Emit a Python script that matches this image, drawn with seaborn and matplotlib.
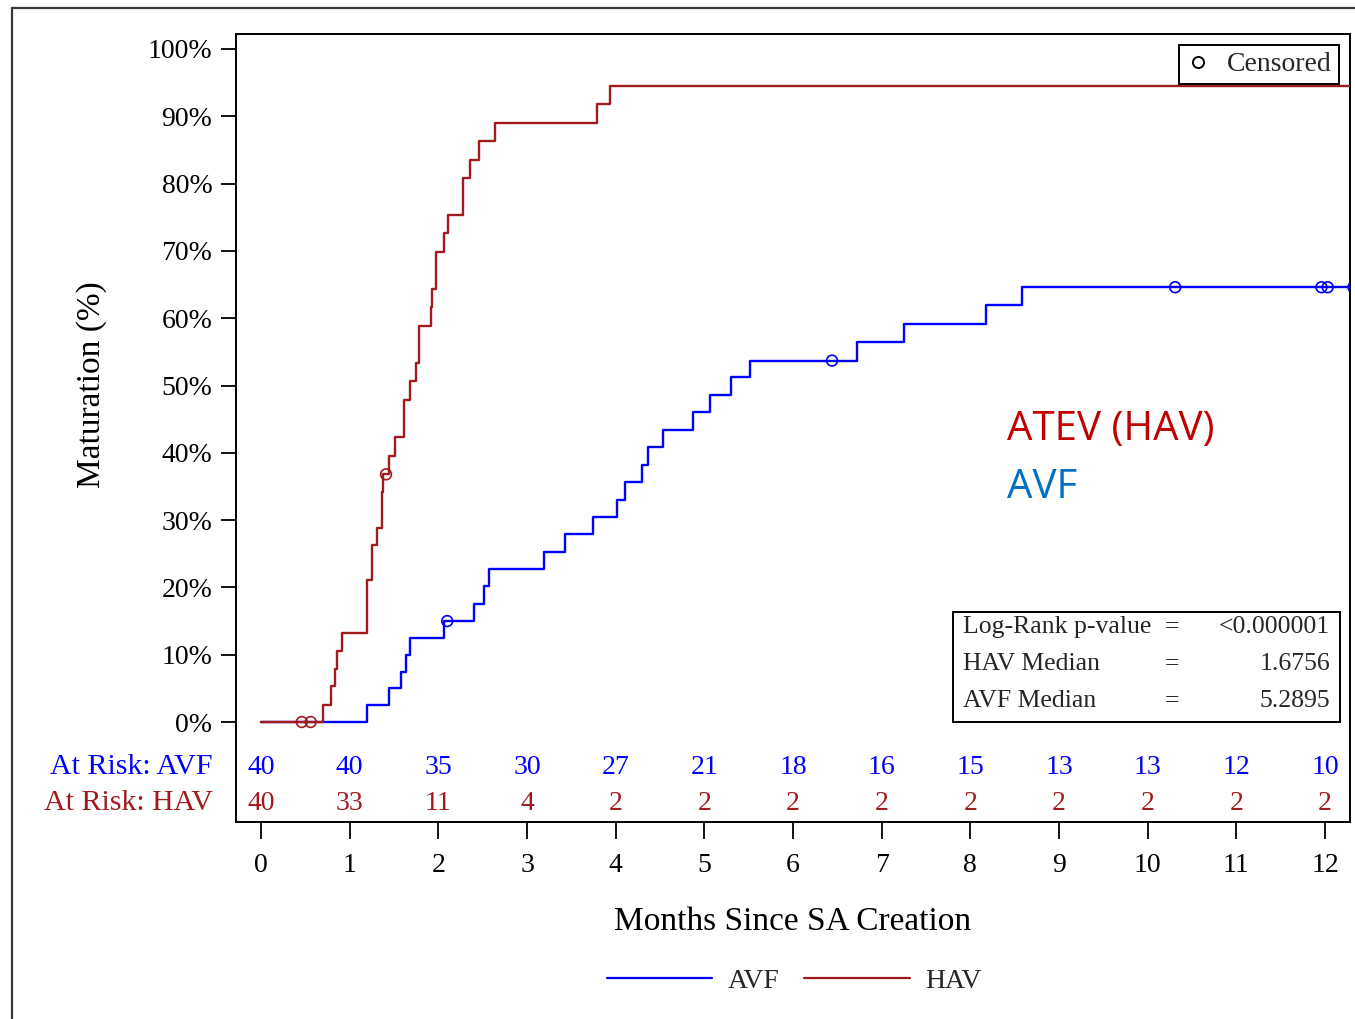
import numpy as np
import pandas as pd
import matplotlib
matplotlib.use("Agg")
import matplotlib.pyplot as plt
from matplotlib.lines import Line2D
from matplotlib.patches import Rectangle
from matplotlib.transforms import blended_transform_factory
import seaborn as sns

# ---- Kaplan-Meier step data (months, cumulative maturation %) ----
hav_time = [0, 0.699, 0.786, 0.835, 0.854, 0.910, 1.192, 1.255, 1.312, 1.361, 1.379,
            1.447, 1.511, 1.616, 1.684, 1.745, 1.785, 1.917, 1.932, 1.974, 2.064,
            2.106, 2.275, 2.357, 2.462, 2.639, 3.786, 3.936, 12.4]
hav_pct = [0, 2.6, 5.3, 7.9, 10.5, 13.2, 21.1, 26.3, 28.9, 34.2, 36.8,
           39.5, 42.3, 47.8, 50.6, 53.4, 58.9, 61.6, 64.3, 69.8, 72.6,
           75.3, 80.8, 83.5, 86.3, 89.0, 91.8, 94.5, 94.5]
hav_cens_time = [0.46, 0.56, 1.41]
hav_cens_pct = [0, 0, 36.8]

avf_time = [0, 1.192, 1.447, 1.575, 1.639, 1.684, 2.067, 2.406, 2.515, 2.575, 3.192,
            3.428, 3.748, 4.01, 4.109, 4.300, 4.361, 4.530, 4.876, 5.064, 5.301,
            5.515, 6.725, 7.256, 8.174, 8.583, 12.4]
avf_pct = [0, 2.5, 5.0, 7.5, 10.0, 12.5, 15.0, 17.6, 20.2, 22.7, 25.3,
           27.9, 30.5, 33.0, 35.6, 38.2, 40.8, 43.4, 46.0, 48.6, 51.2,
           53.7, 56.4, 59.1, 61.9, 64.6, 64.6]
avf_cens_time = [2.10, 6.44, 10.31, 11.96, 12.03, 12.32]
avf_cens_pct = [15.0, 53.7, 64.6, 64.6, 64.6, 64.6]

# ---- Number at risk table ----
risk_months = list(range(13))
avf_at_risk = [40, 40, 35, 30, 27, 21, 18, 16, 15, 13, 13, 12, 10]
hav_at_risk = [40, 33, 11, 4, 2, 2, 2, 2, 2, 2, 2, 2, 2]

# ---- Summary statistics ----
stat_labels = ["Log-Rank p-value", "HAV Median", "AVF Median"]
stat_values = ["<0.000001", "1.6756", "5.2895"]

AVF_COLOR = "#0000FF"
HAV_COLOR = "#A01A1E"

sns.set_theme(style="white")
plt.rcParams["font.family"] = ["Liberation Serif", "DejaVu Serif"]

W, H = 1355, 1019
fig = plt.figure(figsize=(W / 100, H / 100), dpi=100)
fig.patch.set_facecolor("white")

# plot frame in pixel terms
L, R, T, B = 236, 1350, 34, 822
ax = fig.add_axes([L / W, 1 - B / H, (R - L) / W, (B - T) / H])

df_avf = pd.DataFrame({"t": avf_time, "p": avf_pct})
df_hav = pd.DataFrame({"t": hav_time, "p": hav_pct})

sns.lineplot(data=df_avf, x="t", y="p", ax=ax, color=AVF_COLOR, lw=1.7,
             drawstyle="steps-post", estimator=None, sort=False, zorder=3)
sns.lineplot(data=df_hav, x="t", y="p", ax=ax, color=HAV_COLOR, lw=1.7,
             drawstyle="steps-post", estimator=None, sort=False, zorder=3)

sns.scatterplot(x=avf_cens_time, y=avf_cens_pct, ax=ax, marker="o", s=60,
                color=AVF_COLOR, facecolor="none", edgecolor=AVF_COLOR,
                linewidth=1.2, zorder=4)
sns.scatterplot(x=hav_cens_time, y=hav_cens_pct, ax=ax, marker="o", s=60,
                color=HAV_COLOR, facecolor="none", edgecolor=HAV_COLOR,
                linewidth=1.2, zorder=4)

# axis ranges
px_per_month = (1325 - 261) / 12
px_per_pct = (722 - 49) / 100
ax.set_xlim(-(261 - L) / px_per_month, 12 + (R - 1325) / px_per_month)
ax.set_ylim(-(B - 722) / px_per_pct, 100 + (49 - T) / px_per_pct)

ax.set_xticks(risk_months)
ax.set_xticklabels([str(m) for m in risk_months], fontsize=20)
yt = list(range(0, 101, 10))
ax.set_yticks(yt)
ax.set_yticklabels([f"{v}%" for v in yt], fontsize=20)
ax.tick_params(axis="x", direction="out", length=12, width=1.3, pad=10,
               colors="black", bottom=True)
ax.tick_params(axis="y", direction="out", length=11, width=1.3, pad=6,
               colors="black", left=True)

for s in ax.spines.values():
    s.set_visible(True)
    s.set_color("black")
    s.set_linewidth(1.4)

ax.set_xlabel("Months Since SA Creation", fontsize=24, color="black")
ax.xaxis.set_label_coords(0.5, -(907 - B) / (B - T))
ax.set_ylabel("Maturation (%)", fontsize=24, color="black")
ax.yaxis.set_label_coords(-(L - 92) / (R - L), (B - 385) / (B - T))
ax.yaxis.label.set_va("center")

# number-at-risk rows inside the frame
trans = blended_transform_factory(ax.transAxes, ax.transData)
y_avf_row = -(767 - 722) / px_per_pct
y_hav_row = -(803 - 722) / px_per_pct
for m, a, h in zip(risk_months, avf_at_risk, hav_at_risk):
    ax.text(m, y_avf_row, str(a), color=AVF_COLOR, fontsize=20,
            ha="center", va="center")
    ax.text(m, y_hav_row, str(h), color=HAV_COLOR, fontsize=20,
            ha="center", va="center")
lab_x = -(L - 213) / (R - L)
ax.text(lab_x, y_avf_row, "At Risk: AVF", color=AVF_COLOR, fontsize=21.5,
        ha="right", va="center", transform=trans, clip_on=False)
ax.text(lab_x, y_hav_row, "At Risk: HAV", color=HAV_COLOR, fontsize=21.5,
        ha="right", va="center", transform=trans, clip_on=False)

# statistics inset box
def ax_x(px):
    return (px - L) / (R - L)


def ax_y(py):
    return (B - py) / (B - T)


box = Rectangle((ax_x(953), ax_y(722)), ax_x(1340) - ax_x(953),
                ax_y(612) - ax_y(722), transform=ax.transAxes,
                facecolor="white", edgecolor="black", lw=1.4, zorder=5)
ax.add_patch(box)
for row_y, lab, val in zip([627, 664, 701], stat_labels, stat_values):
    ax.text(ax_x(963), ax_y(row_y), lab, transform=ax.transAxes, fontsize=18.5,
            ha="left", va="center", zorder=6)
    ax.text(ax_x(1172), ax_y(row_y), "=", transform=ax.transAxes, fontsize=18.5,
            ha="center", va="center", zorder=6)
    ax.text(ax_x(1330), ax_y(row_y), val, transform=ax.transAxes, fontsize=18.5,
            ha="right", va="center", zorder=6)

# censored-symbol legend
cens_handle = Line2D([], [], marker="o", linestyle="none", markersize=8,
                     markerfacecolor="none", markeredgecolor="black",
                     markeredgewidth=1.4)
leg = ax.legend([cens_handle], ["Censored"], loc="upper right",
                bbox_to_anchor=(ax_x(1339), ax_y(45)), borderaxespad=0,
                fontsize=20, frameon=True, fancybox=False, handlelength=0.9,
                handletextpad=0.6, borderpad=0.25, framealpha=1)
leg.get_frame().set_edgecolor("black")
leg.get_frame().set_linewidth(1.4)
leg.set_zorder(6)

# group annotations
ax.text(ax_x(1007), ax_y(430), "ATEV (HAV)", transform=ax.transAxes,
        fontsize=29, color="#C00000", family=["Open Sans", "DejaVu Sans"],
        ha="left", va="center")
ax.text(ax_x(1007), ax_y(488), "AVF", transform=ax.transAxes,
        fontsize=29, color="#0070C0", family=["Open Sans", "DejaVu Sans"],
        ha="left", va="center")

# bottom series legend
series_handles = [Line2D([], [], color=AVF_COLOR, lw=1.6),
                  Line2D([], [], color=HAV_COLOR, lw=1.6)]
fig.legend(series_handles, ["AVF", "HAV"], loc="center",
           bbox_to_anchor=(794 / W, 1 - 981 / H), ncol=2, frameon=False,
           fontsize=20, handlelength=3.8, handletextpad=0.55,
           columnspacing=0.9)

# outer slide frame
fig.add_artist(Line2D([12 / W, 12 / W], [0, 1 - 8 / H], transform=fig.transFigure,
                      color="#3a3a3a", lw=1.6))
fig.add_artist(Line2D([12 / W, 1], [1 - 8 / H, 1 - 8 / H], transform=fig.transFigure,
                      color="#3a3a3a", lw=1.6))

fig.savefig("out.png", dpi=100, facecolor="white")
